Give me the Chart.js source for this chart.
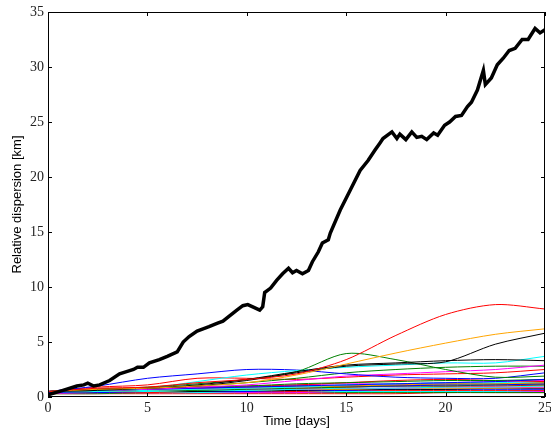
<!DOCTYPE html>
<html>
<head>
<meta charset="utf-8">
<script src="https://cdn.jsdelivr.net/npm/chart.js@4/dist/chart.umd.min.js"></script>
<style>
  html, body { margin: 0; padding: 0; background: #fff; }
  #wrap { width: 551px; height: 431px; }
</style>
</head>
<body>
<div id="wrap"><canvas id="chart" width="551" height="431"></canvas></div>
<script>
// thick black line: mean relative dispersion
const thickDays = [0,0.75,1.45,1.8,2.0,2.3,2.6,3.1,3.6,3.95,4.3,4.5,4.8,5.1,5.6,6.0,6.5,6.8,7.1,7.5,
  7.8,8.1,8.5,8.8,9.15,9.5,9.8,10.05,10.3,10.65,10.8,10.9,11.2,11.5,11.8,12.1,12.3,12.5,12.8,13.1,
  13.3,13.6,13.8,14.1,14.2,14.7,15.2,15.7,16.1,16.45,16.7,16.85,17.3,17.55,17.7,18.0,18.3,18.55,18.8,19.05,
  19.4,19.6,19.95,20.2,20.5,20.8,21.1,21.3,21.6,21.9,22.0,22.3,22.6,22.9,23.2,23.5,23.85,24.15,24.5,24.75,25]
const thickDisp = [0.2,0.6,1.0,1.1,1.25,1.0,1.1,1.5,2.1,2.3,2.5,2.7,2.7,3.1,3.4,3.7,4.1,5.0,5.5,6.0,
  6.2,6.4,6.7,6.9,7.4,7.9,8.3,8.4,8.2,7.9,8.2,9.5,9.9,10.6,11.2,11.7,11.3,11.5,11.2,11.5,
  12.3,13.2,14.0,14.3,14.9,17.0,18.8,20.6,21.5,22.45,23.1,23.5,24.1,23.5,23.9,23.4,24.1,23.6,23.7,23.4,
  24.0,23.8,24.7,25.0,25.5,25.6,26.4,26.8,27.9,29.7,28.4,29.0,30.2,30.8,31.5,31.7,32.5,32.5,33.5,33.1,33.4]

// thin lines: individual pairs, sampled every 2.5 days
const days = [0, 2.5, 5, 7.5, 10, 12.5, 15, 17.5, 20, 22.5, 25]

const pairRed1    = [0.5,0.8,0.9,1.3,1.6,2.1,3.4,5.6,7.5,8.4,8.0]
const pairOrange1 = [0.5,0.7,0.8,1.0,1.3,2.0,3.0,4.0,4.9,5.7,6.2]
const pairBlack1  = [0.5,0.7,0.8,1.0,1.5,2.2,2.8,3.0,3.2,4.8,5.8]
const pairBlack2  = [0.5,0.6,0.8,1.1,1.6,2.3,2.9,3.1,3.3,3.4,3.3]
const pairGreen1  = [0.5,0.7,0.9,1.2,1.6,2.3,3.95,3.4,2.5,1.8,1.9]
const pairCyan1   = [0.5,0.6,0.8,1.4,2.0,2.4,2.7,2.9,3.1,3.1,3.7]
const pairBlue1   = [0.5,1.0,1.7,2.1,2.5,2.45,2.1,1.8,1.7,1.7,2.2]
const pairMag1    = [0.5,0.6,0.7,0.9,1.1,1.5,1.9,2.1,2.3,2.5,2.9]
const pairGreen2  = [0.5,0.6,0.8,1.0,1.3,1.7,2.2,2.5,2.7,2.8,2.8]
const pairRed2    = [0.5,0.9,1.1,1.7,1.7,1.6,1.8,2.0,2.1,2.2,2.5]
const pairBlue2   = [0.5,0.6,0.7,0.8,0.9,1.0,1.1,1.2,1.3,1.4,1.6]
const pairGreen3  = [0.5,0.6,0.7,0.9,1.0,1.2,1.3,1.4,1.5,1.5,1.6]
const pairRed3    = [0.5,0.7,0.8,0.9,1.0,1.1,1.3,1.5,1.6,1.5,1.4]
const pairCyan2   = [0.5,0.5,0.6,0.7,0.8,0.9,1.1,1.2,1.3,1.3,1.4]
const pairMag2    = [0.5,0.6,0.7,0.8,0.9,1.1,1.2,1.2,1.3,1.4,1.5]
const pairOrange2 = [0.5,0.5,0.6,0.7,0.8,0.9,1.0,1.1,1.2,1.2,1.3]
const pairBlack3  = [0.5,0.6,0.7,0.8,0.9,1.0,1.0,1.1,1.2,1.2,1.3]
const pairBlue3   = [0.4,0.5,0.6,0.7,0.8,0.9,1.0,1.0,1.1,1.1,1.2]
const pairGreen4  = [0.5,0.5,0.6,0.6,0.7,0.8,0.9,1.0,1.0,1.1,1.1]
const pairRed4    = [0.5,0.6,0.6,0.7,0.8,0.8,0.9,1.0,1.0,1.0,1.1]
const pairCyan3   = [0.4,0.5,0.5,0.6,0.6,0.7,0.8,0.8,0.9,0.9,1.0]
const pairMag3    = [0.5,0.5,0.6,0.6,0.7,0.7,0.8,0.8,0.9,0.9,0.9]
const pairOrange3 = [0.4,0.5,0.5,0.6,0.6,0.7,0.7,0.8,0.8,0.8,0.9]
const pairBlack4  = [0.4,0.5,0.5,0.5,0.6,0.6,0.7,0.7,0.7,0.8,0.8]
const pairBlue4   = [0.4,0.4,0.5,0.5,0.5,0.6,0.6,0.7,0.7,0.7,0.7]
const pairRed5    = [0.4,0.4,0.4,0.5,0.5,0.5,0.6,0.6,0.6,0.6,0.6]
const pairCyan4   = [0.4,0.4,0.4,0.4,0.5,0.5,0.5,0.5,0.5,0.5,0.6]
const pairMag4    = [0.3,0.4,0.4,0.4,0.4,0.4,0.5,0.5,0.5,0.5,0.5]
const pairGreen5  = [0.3,0.3,0.4,0.4,0.4,0.4,0.4,0.4,0.4,0.4,0.4]
const pairRed6    = [0.3,0.3,0.3,0.3,0.3,0.3,0.3,0.3,0.4,0.4,0.4]

const thinLines = [
  [pairRed1, '#ff0000'], [pairOrange1, '#ffa500'], [pairBlack1, '#000000'], [pairBlack2, '#000000'],
  [pairGreen1, '#008000'], [pairCyan1, '#00ffff'], [pairBlue1, '#0000ff'], [pairMag1, '#ff00ff'],
  [pairGreen2, '#008000'], [pairRed2, '#ff0000'], [pairBlue2, '#0000ff'], [pairGreen3, '#008000'],
  [pairRed3, '#ff0000'], [pairCyan2, '#00ffff'], [pairMag2, '#ff00ff'], [pairOrange2, '#ffa500'],
  [pairBlack3, '#000000'], [pairBlue3, '#0000ff'], [pairGreen4, '#008000'], [pairRed4, '#ff0000'],
  [pairCyan3, '#00ffff'], [pairMag3, '#ff00ff'], [pairOrange3, '#ffa500'], [pairBlack4, '#000000'],
  [pairBlue4, '#0000ff'], [pairRed5, '#ff0000'], [pairCyan4, '#00ffff'], [pairMag4, '#ff00ff'],
  [pairGreen5, '#008000'], [pairRed6, '#ff0000']
]

function make_dataset(xs, ys, color, width) {
  return {
    data: xs.map((x, i) => ({x: x, y: ys[i]})),
    borderColor: color,
    borderWidth: width,
    pointRadius: 0,
    fill: false,
    tension: 0.3
  }
}

let datasets = []
let thick = make_dataset(thickDays, thickDisp, '#000000', 3.5)
thick.tension = 0
datasets.push(thick)
thinLines.forEach(l => datasets.push(make_dataset(days, l[0], l[1], 1)))

// box and inward ticks on all four sides, like the original figure
const boxTicks = {
  id: 'boxTicks',
  afterDraw(chart) {
    const ctx = chart.ctx
    const a = chart.chartArea
    const xs = chart.scales.x, ys = chart.scales.y
    ctx.save()
    ctx.strokeStyle = '#000'
    ctx.lineWidth = 1
    ctx.strokeRect(a.left + 0.5, a.top + 0.5, a.right - a.left - 1, a.bottom - a.top - 1)
    ctx.beginPath()
    xs.ticks.forEach(t => {
      const px = Math.round(xs.getPixelForValue(t.value)) + 0.5
      ctx.moveTo(px, a.bottom); ctx.lineTo(px, a.bottom - 4)
      ctx.moveTo(px, a.top); ctx.lineTo(px, a.top + 4)
    })
    ys.ticks.forEach(t => {
      const py = Math.round(ys.getPixelForValue(t.value)) + 0.5
      ctx.moveTo(a.left, py); ctx.lineTo(a.left + 4, py)
      ctx.moveTo(a.right, py); ctx.lineTo(a.right - 4, py)
    })
    ctx.stroke()
    ctx.restore()
  }
}

const tickFont = {family: "'Liberation Serif', 'DejaVu Serif', serif", size: 14}
const titleFont = {family: "'Liberation Sans', Arial, sans-serif", size: 13}

new Chart(document.getElementById('chart'), {
  type: 'line',
  data: {datasets: datasets},
  plugins: [boxTicks],
  options: {
    responsive: false,
    animation: false,
    layout: {padding: {top: 12, right: 6, left: 0, bottom: 0}},
    plugins: {legend: {display: false}, tooltip: {enabled: false}},
    scales: {
      x: {
        type: 'linear', min: 0, max: 25,
        grid: {display: false, drawTicks: false},
        border: {display: false},
        ticks: {stepSize: 5, color: '#222', font: tickFont, padding: 3, maxRotation: 0},
        title: {display: true, text: 'Time [days]', color: '#000', font: titleFont, padding: {top: 0, bottom: 2}},
        afterFit(s) { s.height = 34; s.paddingLeft = 0; s.paddingRight = 0 }
      },
      y: {
        min: 0, max: 35,
        grid: {display: false, drawTicks: false},
        border: {display: false},
        ticks: {stepSize: 5, color: '#222', font: tickFont, padding: 4},
        title: {display: true, text: 'Relative dispersion [km]', color: '#000', font: titleFont, padding: {top: 10, bottom: 0}},
        afterFit(s) { s.width = 48; s.paddingTop = 0; s.paddingBottom = 0 }
      }
    }
  }
})
</script>
</body>
</html>
